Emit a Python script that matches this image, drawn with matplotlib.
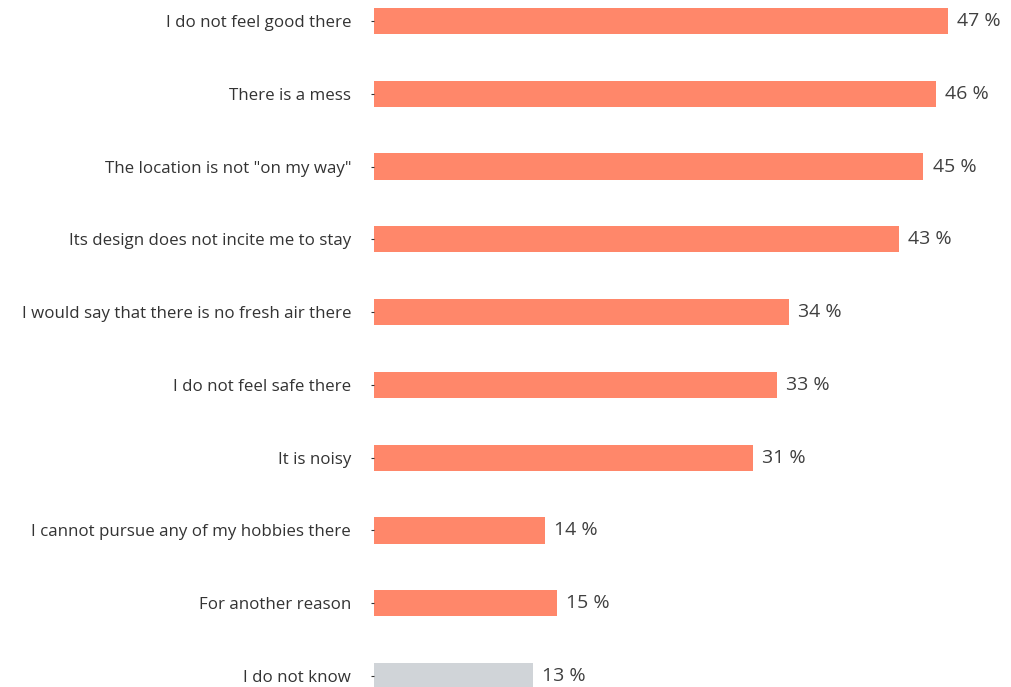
import matplotlib
matplotlib.use("Agg")
import matplotlib.pyplot as plt

categories = [
    "I do not feel good there",
    "There is a mess",
    'The location is not "on my way"',
    "Its design does not incite me to stay",
    "I would say that there is no fresh air there",
    "I do not feel safe there",
    "It is noisy",
    "I cannot pursue any of my hobbies there",
    "For another reason",
    "I do not know",
]
values = [47, 46, 45, 43, 34, 33, 31, 14, 15, 13]
colors = ["#FF876A"] * 9 + ["#D0D4D8"]

plt.rcParams["font.family"] = ["Open Sans", "DejaVu Sans"]

fig = plt.figure(figsize=(10.12, 6.87), dpi=100)
ax = fig.add_axes([374 / 1012, 0, 1 - 374 / 1012, 1])

pos = list(range(len(categories)))
ax.barh(pos, values, height=0.36, color=colors)

for p, v in zip(pos, values):
    ax.text(v + 0.75, p, f"{v} %", va="center", ha="left",
            fontsize=14, color="#404040")

ax.set_xlim(0, 52.25)
ax.set_ylim(9.151, -0.288)
ax.set_yticks(pos)
ax.set_yticklabels(categories, fontsize=12.2, color="#333333")
ax.tick_params(axis="y", length=2, width=0.8, color="#333333", pad=14.5)
ax.set_xticks([])
for s in ax.spines.values():
    s.set_visible(False)

fig.savefig("out.png", dpi=100)
